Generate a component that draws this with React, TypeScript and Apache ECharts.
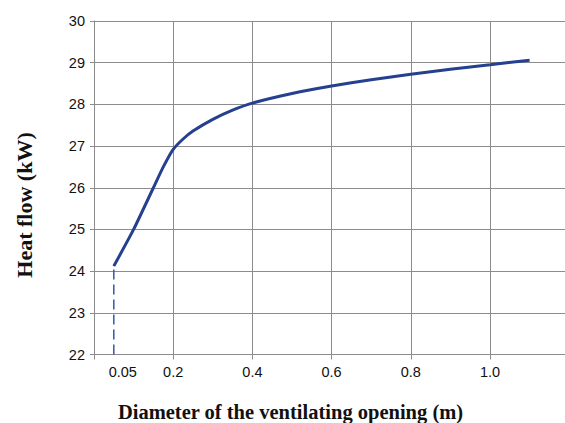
import React, { useEffect, useRef } from "react";
import * as echarts from "echarts";

const diameters = [0.05, 0.1, 0.15, 0.175, 0.2, 0.225, 0.25, 0.3, 0.35, 0.4, 0.5, 0.6, 0.7, 0.8, 0.9, 1.0, 1.1];
const heatFlow = [24.12, 25.0, 26.0, 26.5, 26.92, 27.17, 27.36, 27.64, 27.86, 28.03, 28.26, 28.44, 28.59, 28.72, 28.84, 28.95, 29.06];
const dashedX = [0.05, 0.05];
const dashedY = [22, 24.12];
const xTitle = "Diameter of the ventilating opening (m)";
const yTitle = "Heat flow (kW)";

export default function App() {
  const ref = useRef<HTMLDivElement>(null);
  useEffect(() => {
    if (!ref.current) return;
    const chart = echarts.init(ref.current, null, { renderer: "svg" });
    const gridColor = "#8c8c8c";
    const labelFont = { fontFamily: "Liberation Sans", fontSize: 14.5, color: "#111" };
    chart.setOption({
      animation: false,
      backgroundColor: "#ffffff",
      grid: { left: 94, top: 21, width: 475.2, height: 333.5, containLabel: false },
      xAxis: [
        {
          type: "value",
          min: 0,
          max: 1.2,
          interval: 0.2,
          axisLine: { show: true, lineStyle: { color: gridColor, width: 1 } },
          axisTick: { show: true, length: 5, lineStyle: { color: gridColor } },
          splitLine: { show: true, lineStyle: { color: gridColor, width: 1 } },
          axisLabel: {
            ...labelFont,
            margin: 10,
            formatter: (v: number) => (v > 0.1 && v < 1.1 ? v.toFixed(1) : ""),
          },
        },
        {
          type: "value",
          position: "bottom",
          min: 0,
          max: 1.2,
          interval: 0.05,
          axisLine: { show: false },
          axisTick: { show: false },
          splitLine: { show: false },
          axisLabel: {
            ...labelFont,
            margin: 10,
            padding: [0, 0, 0, 18],
            formatter: (v: number) => (Math.abs(v - 0.05) < 1e-6 ? "0.05" : ""),
          },
        },
      ],
      yAxis: {
        type: "value",
        min: 22,
        max: 30,
        interval: 1,
        axisLine: { show: true, lineStyle: { color: gridColor, width: 1 } },
        axisTick: { show: true, length: 4, lineStyle: { color: gridColor } },
        splitLine: { show: true, lineStyle: { color: gridColor, width: 1 } },
        axisLabel: { ...labelFont, margin: 9 },
      },
      series: [
        {
          type: "line",
          xAxisIndex: 0,
          data: diameters.map((d, i) => [d, heatFlow[i]]),
          smooth: 0.2,
          showSymbol: false,
          lineStyle: { color: "#24408e", width: 3 },
          z: 3,
        },
        {
          type: "line",
          xAxisIndex: 0,
          data: dashedX.map((d, i) => [d, dashedY[i]]),
          showSymbol: false,
          lineStyle: { color: "#3557a6", width: 1.5, type: [10, 5] },
          z: 2,
        },
      ],
      graphic: [
        {
          type: "text",
          x: 290.5,
          y: 411.5,
          style: {
            text: xTitle,
            font: "bold 20.5px 'Liberation Serif'",
            fill: "#111",
            align: "center",
            verticalAlign: "middle",
          },
        },
        {
          type: "text",
          x: 24,
          y: 205,
          rotation: Math.PI / 2,
          style: {
            text: yTitle,
            font: "bold 22px 'Liberation Serif'",
            fill: "#111",
            align: "center",
            verticalAlign: "middle",
          },
        },
      ],
    });
    return () => chart.dispose();
  }, []);
  return (
    <div style={{ position: "fixed", left: 0, top: 0, width: 565, height: 423, overflow: "hidden", background: "#fff" }}>
      <div ref={ref} style={{ width: 580, height: 423 }} />
    </div>
  );
}
